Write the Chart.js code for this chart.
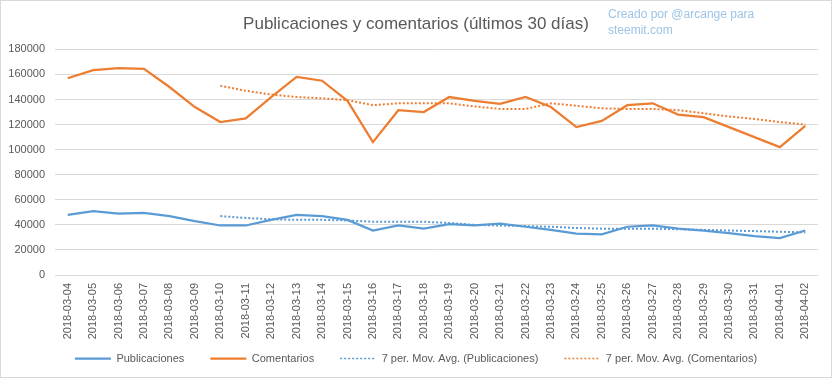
<!DOCTYPE html>
<html>
<head>
<meta charset="utf-8">
<script src="https://cdn.jsdelivr.net/npm/chart.js@4.4.0/dist/chart.umd.min.js"></script>
<style>
    body { margin: 0; background: #ffffff; }
    #contenedor { width: 832px; height: 378px; position: relative; }
</style>
</head>
<body>
<div id="contenedor"><canvas id="graficoPublicaciones"></canvas></div>
<script>
// --- Datos (últimos 30 días) ---
const fechas = ['2018-03-04', '2018-03-05', '2018-03-06', '2018-03-07', '2018-03-08', '2018-03-09', '2018-03-10',
    '2018-03-11', '2018-03-12', '2018-03-13', '2018-03-14', '2018-03-15', '2018-03-16', '2018-03-17',
    '2018-03-18', '2018-03-19', '2018-03-20', '2018-03-21', '2018-03-22', '2018-03-23', '2018-03-24',
    '2018-03-25', '2018-03-26', '2018-03-27', '2018-03-28', '2018-03-29', '2018-03-30', '2018-03-31',
    '2018-04-01', '2018-04-02'];

const publicaciones = [48000, 51000, 49000, 49500, 47000, 43000, 39500, 39500, 44000, 48000,
    47000, 44000, 35500, 39500, 37000, 40500, 39500, 41000, 38500, 36000,
    33000, 32500, 38500, 39500, 37000, 35500, 33500, 31000, 29500, 35500];

const comentarios = [157000, 163500, 165000, 164500, 150000, 134000, 122000, 125000, 142000, 158000,
    155000, 139000, 106000, 131500, 130000, 142000, 139000, 136500, 142000, 134000,
    118000, 123000, 135500, 137000, 128000, 126000, 118000, 110000, 102000, 119000];

const mediaPublicaciones = [null, null, null, null, null, null, 47000, 45500, 44500, 44000,
    44000, 43500, 42500, 42500, 42500, 41500, 40000, 39500, 39000, 38500,
    37500, 37000, 37000, 37000, 36500, 36000, 35500, 35000, 34500, 34000];

const mediaComentarios = [null, null, null, null, null, null, 151000, 147000, 144000, 142000,
    141000, 139500, 135500, 137000, 137000, 137000, 134500, 132500, 132500, 137000,
    135000, 133000, 132500, 132500, 131500, 129000, 126500, 124500, 122000, 120000];

const ticksY = [0, 20000, 40000, 60000, 80000, 100000, 120000, 140000, 160000, 180000];

const fuente = "'Liberation Sans', 'DejaVu Sans', sans-serif";
const gris = '#595959';

// fondo blanco y borde gris
const fondo = {
    id: 'fondo',
    beforeDraw(chart) {
        const ctx = chart.ctx;
        ctx.save();
        ctx.fillStyle = '#ffffff';
        ctx.fillRect(0, 0, chart.width, chart.height);
        ctx.strokeStyle = '#d9d9d9';
        ctx.lineWidth = 1;
        ctx.strokeRect(0.5, 0.5, chart.width - 1, chart.height - 1);
        ctx.restore();
    }
};

// texto "Creado por..."
const creditos = {
    id: 'creditos',
    afterDraw(chart) {
        const ctx = chart.ctx;
        ctx.save();
        ctx.font = '12px ' + fuente;
        ctx.fillStyle = '#9dc3e6';
        ctx.textBaseline = 'middle';
        ctx.textAlign = 'left';
        ctx.fillText('Creado por @arcange para', 608, 15);
        ctx.fillText('steemit.com', 608, 31);
        ctx.restore();
    }
};

new Chart(document.getElementById('graficoPublicaciones'), {
    type: 'line',
    data: {
        labels: fechas,
        datasets: [{
            label: 'Publicaciones',
            data: publicaciones,
            borderColor: '#5b9bd5',
            backgroundColor: '#5b9bd5',
            borderWidth: 2.25
        }, {
            label: 'Comentarios',
            data: comentarios,
            borderColor: '#ed7d31',
            backgroundColor: '#ed7d31',
            borderWidth: 2.25
        }, {
            label: '7 per. Mov. Avg. (Publicaciones)',
            data: mediaPublicaciones,
            borderColor: '#5b9bd5',
            backgroundColor: '#5b9bd5',
            borderWidth: 2,
            borderDash: [2, 2]
        }, {
            label: '7 per. Mov. Avg. (Comentarios)',
            data: mediaComentarios,
            borderColor: '#ed7d31',
            backgroundColor: '#ed7d31',
            borderWidth: 2,
            borderDash: [2, 2]
        }]
    },
    options: {
        responsive: true,
        maintainAspectRatio: false,
        animation: false,
        layout: { padding: { top: 0, right: 0, bottom: 4, left: 0 } },
        elements: {
            point: { radius: 0, hoverRadius: 0 },
            line: { tension: 0 }
        },
        scales: {
            x: {
                offset: true,
                grid: { display: false },
                border: { display: false },
                ticks: {
                    color: gris,
                    font: { family: fuente, size: 11 },
                    minRotation: 90,
                    maxRotation: 90,
                    autoSkip: false,
                    padding: 0
                },
                afterFit(scale) {
                    scale.height = 52;
                    // las etiquetas pueden bajar sobre la leyenda
                    scale._computeLabelArea = () => undefined;
                }
            },
            y: {
                min: 0,
                max: 180000,
                afterBuildTicks(scale) { scale.ticks = ticksY.map(v => ({ value: v })); },
                grid: { color: '#d9d9d9', drawTicks: false },
                border: { display: false },
                ticks: {
                    color: gris,
                    font: { family: fuente, size: 11 },
                    padding: 10,
                    callback: v => String(v)
                },
                afterFit(scale) { scale.width = 55; }
            },
            // margen derecho
            derecha: {
                position: 'right',
                grid: { display: false },
                border: { display: false },
                ticks: { display: false },
                afterFit(scale) { scale.width = 14; }
            }
        },
        plugins: {
            title: {
                display: true,
                text: 'Publicaciones y comentarios (últimos 30 días)',
                color: gris,
                font: { family: fuente, size: 17, weight: 'normal' },
                padding: { top: 14, bottom: 15 }
            },
            legend: {
                display: true,
                position: 'bottom',
                labels: {
                    color: gris,
                    font: { family: fuente, size: 11 },
                    usePointStyle: true,
                    pointStyle: 'line',
                    pointStyleWidth: 36,
                    padding: 26,
                    generateLabels(chart) {
                        const items = Chart.defaults.plugins.legend.labels.generateLabels(chart);
                        items.forEach((item, i) => {
                            const ds = chart.data.datasets[i];
                            item.strokeStyle = ds.borderColor;
                            item.lineDash = ds.borderDash || [];
                            item.lineWidth = ds.borderDash ? 1.5 : 2.25;
                        });
                        return items;
                    }
                }
            },
            tooltip: { enabled: false }
        }
    },
    plugins: [fondo, creditos]
});
</script>
</body>
</html>
